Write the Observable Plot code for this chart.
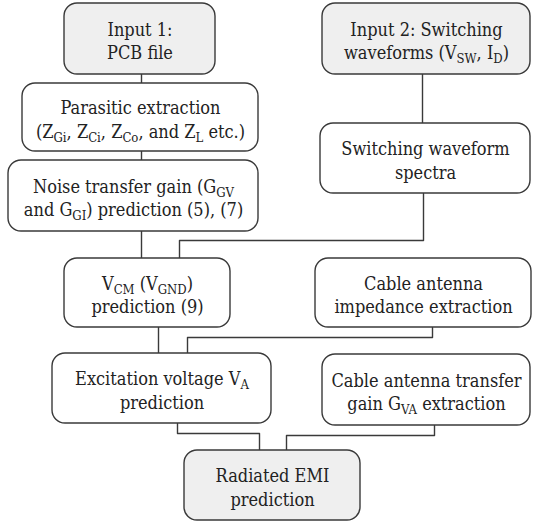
<!DOCTYPE html>
<html>
<head>
<meta charset="utf-8">
<script src="https://cdn.jsdelivr.net/npm/d3@7"></script>
<script src="https://cdn.jsdelivr.net/npm/@observablehq/plot@0.6"></script>
<style>
  html, body { margin: 0; padding: 0; background: #fff; }
  #chart svg { display: block; }
  #chart svg text { font-stretch: condensed; }
</style>
</head>
<body>
<div id="chart"></div>
<script>
// Flowchart nodes (labels use _{...} for subscripts)
const nodeLabels = [
  "Input 1:\nPCB file",
  "Parasitic extraction\n(Z_{Gi}, Z_{Ci}, Z_{Co}, and Z_{L} etc.)",
  "Noise transfer gain (G_{GV}\nand G_{GI}) prediction (5), (7)",
  "V_{CM} (V_{GND})\nprediction (9)",
  "Excitation voltage V_{A}\nprediction",
  "Input 2: Switching\nwaveforms (V_{SW}, I_{D})",
  "Switching waveform\nspectra",
  "Cable antenna\nimpedance extraction",
  "Cable antenna transfer\ngain G_{VA} extraction",
  "Radiated EMI\nprediction"
];
const nodeX1 = [64, 22, 8, 64, 52, 322, 320, 315, 322, 184];
const nodeX2 = [215, 258, 258, 230, 271, 530, 530, 531, 530, 360];
const nodeY1 = [3, 83, 160, 258, 353, 3, 123, 258, 354, 450];
const nodeY2 = [74, 151, 231, 327, 423, 74, 193, 327, 425, 520];
const nodeKind = ["io", "step", "step", "step", "step", "io", "step", "step", "step", "io"];

// Connector polylines
const connectors = [
  [[141, 74], [141, 83]],
  [[141, 151], [141, 160]],
  [[141, 231], [141, 258]],
  [[422, 74], [422, 123]],
  [[423, 193], [423, 240], [179, 240], [179, 258]],
  [[158, 327], [158, 353]],
  [[432, 327], [432, 337], [187, 337], [187, 353]],
  [[177, 423], [177, 433], [259, 433], [259, 450]],
  [[434, 425], [434, 435], [286, 435], [286, 450]]
];

const nodes = nodeLabels.map((label, i) => ({
  label, x1: nodeX1[i], x2: nodeX2[i], y1: nodeY1[i], y2: nodeY2[i], kind: nodeKind[i]
}));
const linePts = connectors.flatMap((pts, id) => pts.map(([x, y]) => ({id, x, y})));

const W = 537, H = 522;
const chart = Plot.plot({
  width: W,
  height: H,
  margin: 0,
  x: {domain: [0, W], range: [0, W], axis: null},
  y: {domain: [0, H], range: [0, H], axis: null},
  style: {background: "#fff"},
  marks: [
    Plot.line(linePts, {x: "x", y: "y", z: "id", stroke: "#3a3a3a", strokeWidth: 1.4, curve: "linear"}),
    Plot.rect(nodes, {
      x1: "x1", x2: "x2", y1: "y1", y2: "y2", rx: 13,
      fill: d => d.kind === "io" ? "#efefef" : "#ffffff",
      stroke: "#3a3a3a", strokeWidth: 1.4
    }),
    Plot.text(nodes, {
      x: d => (d.x1 + d.x2) / 2,
      y: d => (d.y1 + d.y2) / 2 + 1,
      text: "label",
      fontSize: 18,
      fontFamily: "'DejaVu Serif Condensed', 'DejaVu Serif'",
      lineHeight: 1.3,
      lineAnchor: "middle",
      fill: "#222"
    })
  ]
});

// Render subscripts: replace _{...} with lowered, smaller tspans
const SVGNS = "http://www.w3.org/2000/svg";
function subscriptify(el) {
  const s = el.textContent;
  if (!s.includes("_{")) return;
  const parts = s.split(/_\{([^}]*)\}/);
  el.textContent = "";
  let lowered = false;
  parts.forEach((p, i) => {
    if (i % 2 === 1) {
      const t = document.createElementNS(SVGNS, "tspan");
      t.setAttribute("font-size", "13");
      t.setAttribute("dy", "4");
      t.textContent = p;
      el.appendChild(t);
      lowered = true;
    } else {
      if (lowered) {
        const t = document.createElementNS(SVGNS, "tspan");
        t.setAttribute("dy", "-4");
        t.textContent = p.length ? p : "\u200B";
        el.appendChild(t);
        lowered = false;
      } else if (p.length) {
        el.appendChild(document.createTextNode(p));
      }
    }
  });
}
chart.querySelectorAll("text").forEach(textEl => {
  const spans = textEl.querySelectorAll(":scope > tspan");
  if (spans.length) spans.forEach(subscriptify);
  else subscriptify(textEl);
});

document.getElementById("chart").appendChild(chart);
</script>
</body>
</html>
